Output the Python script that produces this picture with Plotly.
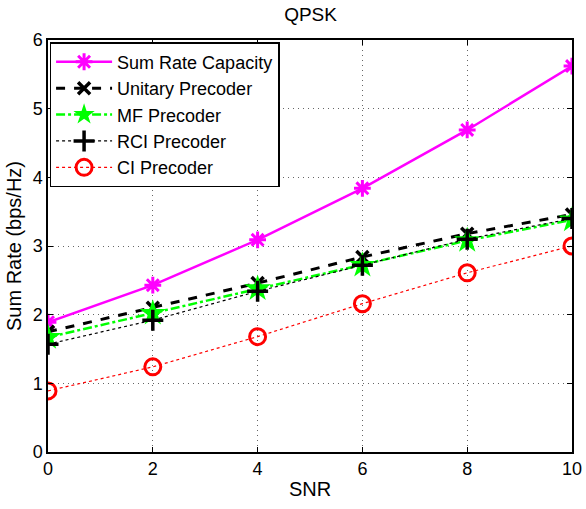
import plotly.graph_objects as go

snr = [0, 2, 4, 6, 8, 10]
sum_rate = [1.89, 2.43, 3.09, 3.84, 4.69, 5.62]
unitary = [1.75, 2.10, 2.46, 2.84, 3.18, 3.46]
mf = [1.67, 2.02, 2.38, 2.72, 3.08, 3.38]
rci = [1.57, 1.92, 2.34, 2.72, 3.10, 3.40]
ci = [0.89, 1.24, 1.68, 2.16, 2.61, 3.00]

names = ["Sum Rate Capacity", "Unitary Precoder", "MF Precoder", "RCI Precoder", "CI Precoder"]

fig = go.Figure()
fig.add_trace(go.Scatter(x=snr, y=sum_rate, name=names[0], mode="lines+markers",
                         line=dict(color="#ff00ff", width=2.5),
                         marker=dict(symbol="asterisk-open", size=14, line=dict(color="#ff00ff", width=3))))
fig.add_trace(go.Scatter(x=snr, y=unitary, name=names[1], mode="lines+markers",
                         line=dict(color="black", width=3, dash="dash"),
                         marker=dict(symbol="x-thin-open", size=12, line=dict(color="black", width=3.5))))
fig.add_trace(go.Scatter(x=snr, y=mf, name=names[2], mode="lines+markers",
                         line=dict(color="#00ff00", width=2.5, dash="dashdot"),
                         marker=dict(symbol="star", size=20, color="#00ff00", line=dict(color="#00ff00", width=0))))
fig.add_trace(go.Scatter(x=snr, y=rci, name=names[3], mode="lines+markers",
                         line=dict(color="black", width=1.2, dash="dot"),
                         marker=dict(symbol="cross-thin-open", size=15, line=dict(color="black", width=3.5))))
fig.add_trace(go.Scatter(x=snr, y=ci, name=names[4], mode="lines+markers",
                         line=dict(color="red", width=1.2, dash="dot"),
                         marker=dict(symbol="circle-open", size=16, line=dict(color="red", width=3))))

axis_common = dict(showline=True, linecolor="black", linewidth=1.5, mirror="ticks",
                   ticks="inside", ticklen=5, tickcolor="black",
                   showgrid=True, gridcolor="#666666", griddash="1px,4px", gridwidth=1,
                   zeroline=False, tickfont=dict(size=18, color="black"), automargin=False)

fig.update_layout(
    width=586, height=509,
    margin=dict(l=48, r=14, t=40, b=57),
    paper_bgcolor="white", plot_bgcolor="white",
    font=dict(family="Liberation Sans, Arial, sans-serif", color="black", size=18),
    title=dict(text="QPSK", x=0.53, xanchor="center", y=0.985, yanchor="top", font=dict(size=19)),
    xaxis=dict(range=[0, 10], tickvals=[0, 2, 4, 6, 8, 10],
               title=dict(text="SNR", font=dict(size=20), standoff=4), **axis_common),
    yaxis=dict(range=[0, 6], tickvals=[0, 1, 2, 3, 4, 5, 6],
               title=dict(text="Sum Rate (bps/Hz)", font=dict(size=20), standoff=6), **axis_common),
    legend=dict(x=0.003, y=0.995, xanchor="left", yanchor="top",
                bgcolor="white", bordercolor="black", borderwidth=1.5,
                font=dict(size=18), itemwidth=56, tracegroupgap=0),
    showlegend=True,
)

fig.write_html("out.html")
